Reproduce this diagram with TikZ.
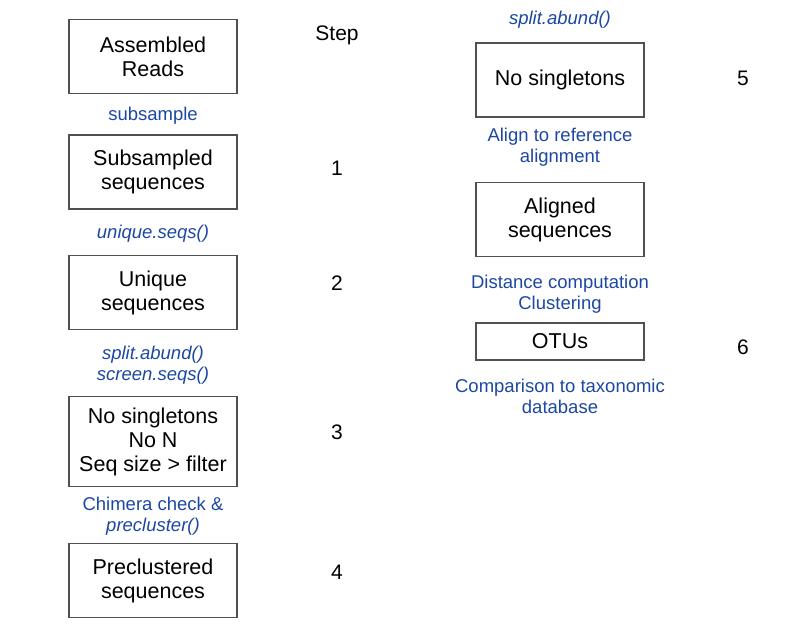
\documentclass[tikz,border=0pt]{standalone}
\usepackage{fontspec}
\setmainfont{Liberation Sans}
\definecolor{cmdblue}{HTML}{1C47A3}
\definecolor{boxgray}{HTML}{505050}
\tikzset{
  stage/.style={draw=boxgray, line width=1.1pt, minimum width=168pt,
    minimum height=74pt, inner sep=0pt, align=center,
    font=\fontsize{21.5}{24}\selectfont},
  cmd/.style={text=cmdblue, align=center, inner sep=0pt,
    font=\fontsize{18.5}{21}\selectfont},
  stepnum/.style={inner sep=0pt, font=\fontsize{21}{24}\selectfont}
}
\begin{document}
\begin{tikzpicture}[x=1pt,y=-1pt]
 \useasboundingbox (0,0) rectangle (797,625);
 % left column
 \node[stage] (reads) at (153,56.5) {Assembled\\Reads};
 \node[stage] (subseq) at (153,172) {Subsampled\\sequences};
 \node[stage] (uniqseq) at (153,292.5) {Unique\\sequences};
 \node[stage, minimum height=90pt] (filtseq) at (153,441.5) {No singletons\\No N\\Seq size > filter};
 \node[stage] (preseq) at (153,580.5) {Preclustered\\sequences};
 \node[cmd] (subcmd) at (153,115.5) {subsample};
 \node[cmd] (uniqcmd) at (153,233.5) {\itshape unique.seqs()};
 \node[cmd] (screencmd) at (153,365) {\itshape split.abund()\\\itshape screen.seqs()};
 \node[cmd] (chimcmd) at (153,516) {Chimera check \&\\\itshape precluster()};
 % right column
 \node[stage] (nosing) at (560,80) {No singletons};
 \node[stage] (alnseq) at (560,219.5) {Aligned\\sequences};
 \node[stage, minimum height=37pt] (otus) at (560,341.5) {OTUs};
 \node[cmd] (splitcmd) at (560,19.5) {\itshape split.abund()};
 \node[cmd] (aligncmd) at (560,147) {Align to reference\\alignment};
 \node[cmd] (distcmd) at (560,294) {Distance computation\\Clustering};
 \node[cmd] (taxcmd) at (560,396) {Comparison to taxonomic\\database};
 % step numbers
 \node[stepnum] (steplbl) at (337,35) {Step};
 \foreach \n/\x/\y in {1/337/168.5,2/337/283.5,3/337/432.5,4/337/572.5,5/743/78.5,6/743/347.5}
   \node[stepnum] (step\n) at (\x,\y) {\n};
\end{tikzpicture}
\end{document}
